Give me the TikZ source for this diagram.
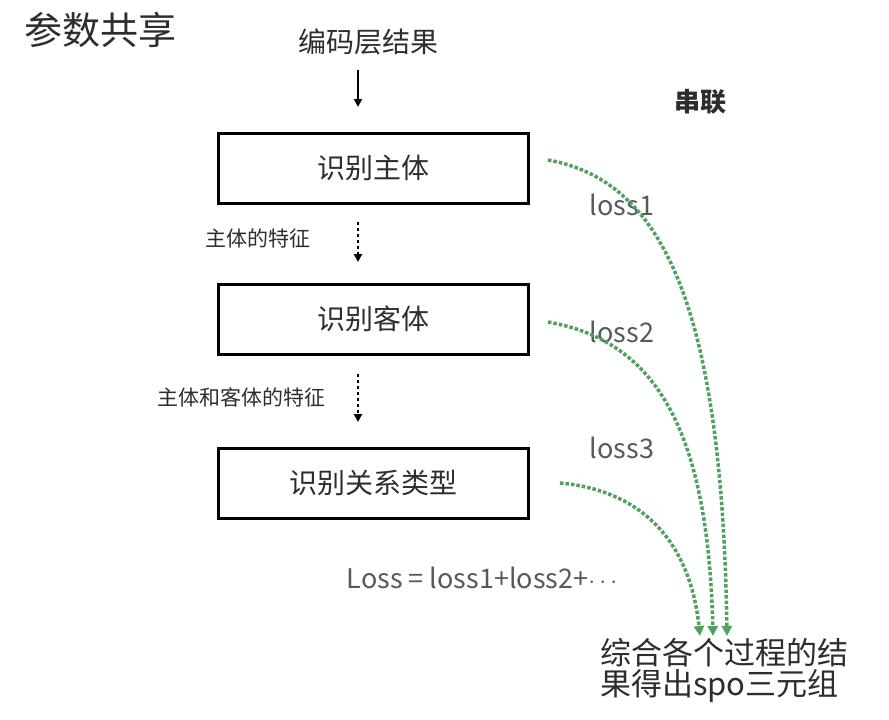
\documentclass[tikz,border=0pt]{standalone}
\usepackage{fontspec}
\setmainfont{Noto Sans CJK SC}
\usetikzlibrary{arrows.meta}
\definecolor{tx}{RGB}{45,45,45}
\definecolor{gr}{RGB}{80,160,95}
\begin{document}
\begin{tikzpicture}[x=1pt,y=-1pt,
  box/.style={draw=black,line width=3pt,minimum width=310pt,minimum height=70pt,inner sep=0pt,font=\fontsize{28}{30}\selectfont,text=tx},
  lbl/.style={text=tx,inner sep=0pt},
  flow/.style={line width=2pt,-{Triangle[length=8pt,width=8pt]}},
  gflow/.style={gr,line width=3.5pt,dotted,-{Triangle[length=10pt,width=10pt]}}]
\useasboundingbox (0,0) rectangle (889,720);
\node[lbl,font=\fontsize{38}{40}\selectfont] (title) at (100,30) {参数共享};
\node[lbl,font=\fontsize{28}{30}\selectfont] (enc) at (368,42) {编码层结果};
\node[lbl,font=\bfseries\fontsize{26}{28}\selectfont] (cl) at (700,102) {串联};
\node[box] (b1) at (373,168) {识别主体};
\node[box] (b2) at (373,319) {识别客体};
\node[box] (b3) at (373,483) {识别关系类型};
\node[lbl,font=\fontsize{21}{23}\selectfont] (f1) at (258,238) {主体的特征};
\node[lbl,font=\fontsize{21}{23}\selectfont] (f2) at (241,397) {主体和客体的特征};
\coordinate (a0) at (358,70); \coordinate (a1) at (358,107);
\coordinate (d0) at (358,222); \coordinate (d1) at (358,262);
\coordinate (e0) at (358,374); \coordinate (e1) at (358,422);
\draw[flow] (a0) -- (a1);
\draw[flow,dashed] (d0) -- (d1);
\draw[flow,dashed] (e0) -- (e1);
\node[lbl,font=\fontsize{27}{29}\selectfont,text=black!65] (l1) at (622,205) {loss1};
\node[lbl,font=\fontsize{27}{29}\selectfont,text=black!65] (l2) at (622,332) {loss2};
\node[lbl,font=\fontsize{27}{29}\selectfont,text=black!65] (l3) at (622,448) {loss3};
\node[lbl,font=\fontsize{27}{29}\selectfont,text=black!65] (L) at (482,578) {Loss = loss1+loss2+$\cdots$};
\node[lbl,font=\fontsize{31}{33}\selectfont,align=left,anchor=north west] (res) at (600,638) {综合各个过程的结\\[-2pt]果得出spo三元组};
\coordinate (s1) at (548,160); \coordinate (t1) at (727,636);
\coordinate (s2) at (548,322); \coordinate (t2) at (713,636);
\coordinate (s3) at (560,483); \coordinate (t3) at (700,636);
\draw[gflow] (s1) .. controls (660,180) and (722,300) .. (t1);
\draw[gflow] (s2) .. controls (650,340) and (708,420) .. (t2);
\draw[gflow] (s3) .. controls (640,490) and (690,540) .. (t3);
\end{tikzpicture}
\end{document}
